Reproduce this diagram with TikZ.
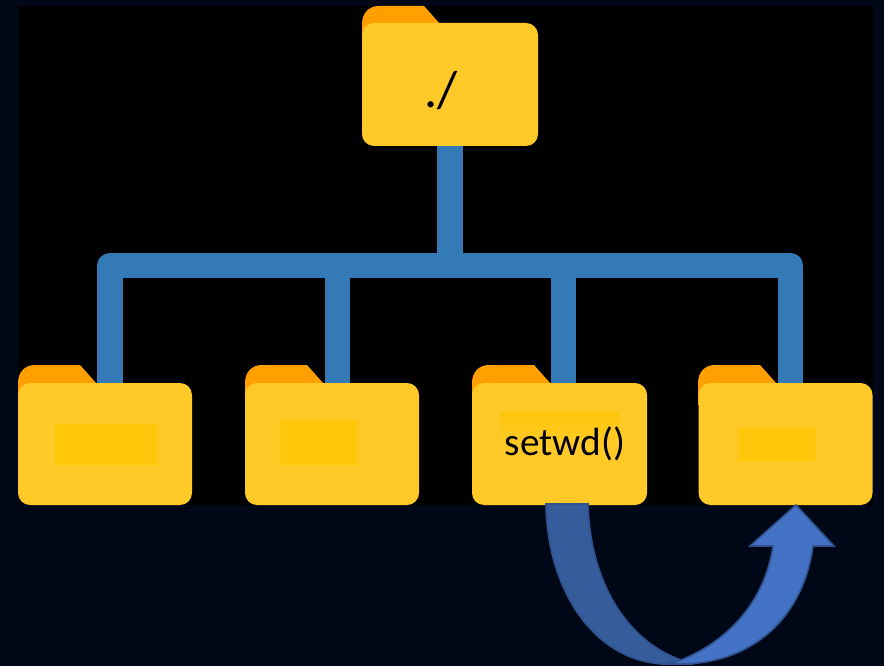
\documentclass[tikz,border=0pt]{standalone}
\usepackage{fontspec}
\setmainfont{Carlito}
\definecolor{pagebg}{HTML}{000818}
\definecolor{folderbody}{HTML}{FFCA28}
\definecolor{foldertab}{HTML}{FFA000}
\definecolor{patch}{HTML}{FFC60A}
\definecolor{connblue}{HTML}{337AB7}
\definecolor{arrowdark}{HTML}{375C9C}
\definecolor{arrowlight}{HTML}{4472C4}
\definecolor{arrowedge}{HTML}{2F528F}
\tikzset{
  folder/.style={fill=folderbody,rounded corners=9pt,minimum width=130.5pt,minimum height=91.5pt,inner sep=0pt,outer sep=0pt},
  tab/.style={fill=foldertab,draw=none},
  conn/.style={draw=connblue,line width=19pt,line cap=butt,line join=round},
  lbl/.style={text=black,inner sep=0pt},
  sweep/.style={draw=arrowedge,line width=1.2pt,line join=miter}
}
\newcommand{\foldertab}[2]{% left x, tab top y
  \path[tab] (#1,#2+40) -- (#1,#2+18) .. controls (#1,#2+7) and (#1+7,#2) .. (#1+17,#2) -- (#1+62,#2) -- (#1+78,#2+18) -- (#1+78,#2+40) -- cycle;}
\begin{document}
\begin{tikzpicture}[x=0.75pt,y=-0.75pt]
\useasboundingbox (0,0) rectangle (884,666);
\fill[pagebg] (0,0) rectangle (884,666);
\fill[black] (18,6) rectangle (873,505);
% connectors
\coordinate (busmid) at (450,265.5);
\coordinate (b1) at (110,265.5);
\coordinate (b2) at (337.5,265.5);
\coordinate (b3) at (563.5,265.5);
\coordinate (b4) at (790.5,265.5);
% folders
\foldertab{362}{6}
\foldertab{18}{365}
\foldertab{245}{365}
\foldertab{472}{365}
\foldertab{698}{365}
\node[folder,minimum width=132pt,minimum height=92.25pt] (root) at (450,84.5) {};
\node[folder] (f1) at (105,444) {};
\node[folder] (f2) at (332,444) {};
\node[folder,minimum width=131.25pt] (f3) at (559.5,444) {};
\node[folder] (f4) at (785.5,444) {};
\draw[conn] (root.south) -- (busmid);
\draw[conn] (b1 |- f1.north) -- (b1) -- (b4) -- (b4 |- f4.north);
\draw[conn] (b2) -- (b2 |- f2.north);
\draw[conn] (b3) -- (b3 |- f3.north);
% patches
\fill[patch] (55,424) rectangle (158,465);
\fill[patch] (280,420) rectangle (358,465);
\shade[top color=patch,bottom color=folderbody] (500,412) rectangle (619,445);
\fill[patch] (738,428) rectangle (816,461);
% labels
\node[lbl,font=\fontsize{39pt}{42pt}\selectfont] (rootlabel) at (441,91) {./};
\node[lbl,font=\fontsize{29.5pt}{32pt}\selectfont] (f3label) at (565,444) {setwd()};
% u-turn arrow
\path[sweep,fill=arrowdark] (546,504) .. controls (547,590) and (595,664) .. (668,664) -- (690,664) -- (681,660) .. controls (625,640) and (590,580) .. (588,504) -- cycle;
\path[sweep,fill=arrowlight] (660,664) .. controls (668,664) and (675,662) .. (681,660) .. controls (730,640) and (765,600) .. (773,546) -- (750,546) -- (796,505) -- (834,546) -- (813,546) .. controls (803,620) and (750,664) .. (680,664) -- cycle;
\end{tikzpicture}
\end{document}
